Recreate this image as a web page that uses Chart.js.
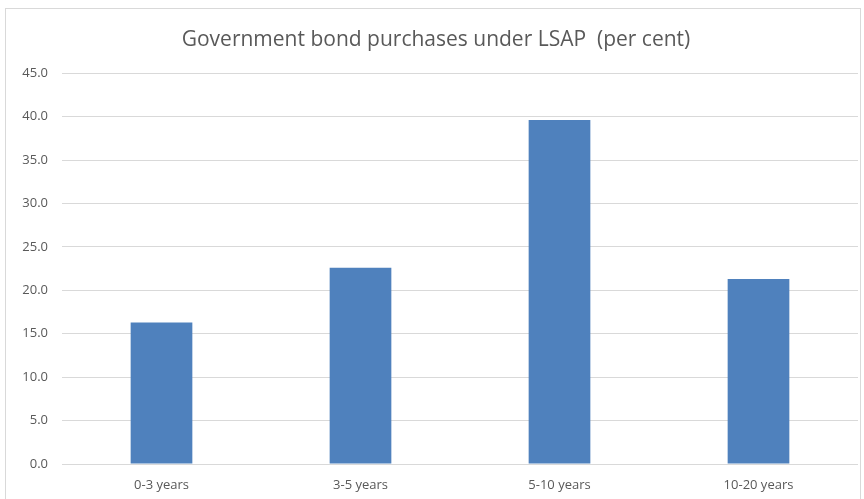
<!DOCTYPE html>
<html>
<head>
<meta charset="utf-8">
<script src="https://cdn.jsdelivr.net/npm/chart.js@4.4.1/dist/chart.umd.min.js"></script>
<style>
  html, body { margin: 0; padding: 0; background: #fff; }
  .wrap { position: relative; width: 864px; height: 499px; overflow: hidden; }
  .frame { position: absolute; left: 5px; top: 8px; width: 856px; height: 520px; border: 1px solid #d9d9d9; box-sizing: border-box; }
  canvas { position: absolute; left: 0; top: 0; }
</style>
</head>
<body>
<div class="wrap">
  <div class="frame"></div>
  <canvas id="lsapChart" width="864" height="499"></canvas>
</div>
<script>
// Data
const categories = ['0-3 years', '3-5 years', '5-10 years', '10-20 years'];
const purchases = [16.3, 22.6, 39.6, 21.3];
const yTicks = [0, 5, 10, 15, 20, 25, 30, 35, 40, 45];

const titleText = 'Government bond purchases under LSAP  (per cent)';
const textGrey = '#595959';
const gridGrey = '#d9d9d9';
const barBlue = '#4f81bd';

const ctx = document.getElementById('lsapChart');

new Chart(ctx, {
    type: 'bar',
    data: {
        labels: categories,
        datasets: [{
            label: 'Per cent',
            data: purchases,
            backgroundColor: barBlue,
            borderWidth: 0,
            categoryPercentage: 1.0,
            barPercentage: 0.31
        }]
    },
    options: {
        responsive: false,
        animation: false,
        layout: {
            // a bit of left padding nudges the title centre to the right
            padding: { left: 14, right: 6, top: 0, bottom: 0 }
        },
        plugins: {
            legend: { display: false },
            tooltip: { enabled: false },
            title: {
                display: true,
                text: titleText,
                color: textGrey,
                font: { family: 'Open Sans', size: 21, weight: 'normal' },
                padding: { top: 27, bottom: 21 }
            }
        },
        scales: {
            x: {
                grid: { display: false, drawTicks: false },
                border: { display: false },
                ticks: {
                    color: textGrey,
                    font: { family: 'Open Sans', size: 13 },
                    padding: 13,
                    maxRotation: 0
                },
                afterFit: function(scale) {
                    scale.height = 35;
                }
            },
            y: {
                min: 0,
                max: 45,
                afterBuildTicks: function(scale) {
                    scale.ticks = yTicks.map(v => ({ value: v }));
                },
                grid: { color: gridGrey, lineWidth: 1, drawTicks: false },
                border: { display: false },
                ticks: {
                    color: textGrey,
                    font: { family: 'Open Sans', size: 13 },
                    padding: 14,
                    callback: v => Number(v).toFixed(1)
                },
                afterFit: function(scale) {
                    scale.width = 48;
                }
            }
        }
    }
});
</script>
</body>
</html>
